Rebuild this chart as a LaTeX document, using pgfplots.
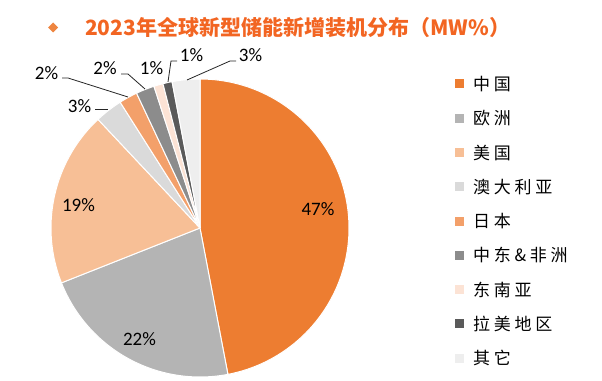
\documentclass[border=0pt]{standalone}
\usepackage{pgfplots}
\usepackage{pgfplotstable}
\pgfplotsset{compat=1.18}
\usepackage{fontspec}
\setmainfont{Carlito}
\newfontfamily\titlefont{Noto Sans CJK SC}
\newfontfamily\legfont[LetterSpace=22]{Noto Sans CJK SC}

\definecolor{cChina}{HTML}{ED7D31}
\definecolor{cEurope}{HTML}{B4B4B4}
\definecolor{cUS}{HTML}{F7BF96}
\definecolor{cAus}{HTML}{DADADA}
\definecolor{cJapan}{HTML}{F3A06A}
\definecolor{cMEA}{HTML}{8C8C8C}
\definecolor{cSEA}{HTML}{FCE3D5}
\definecolor{cLatAm}{HTML}{5A5A5A}
\definecolor{cOther}{HTML}{EEEEEE}
\definecolor{cTitle}{HTML}{F26522}
\definecolor{cDiamond}{HTML}{EE8540}

% share of 2023 new energy-storage installations (%), clockwise from 12 o'clock
\pgfplotstableread{
region value
China 47
Europe 22
US 19
Australia 3
Japan 2
MEA 2
SEA 1
LatAm 1
Other 3
}\piedata

\newcommand\lbl{\fontsize{19bp}{22bp}\selectfont}
\newcommand\pwedge[2]{%
  \fill[#2, draw=white, line width=1bp] (axis cs:200,228) -- plot[domain={\csname pieE#1\endcsname}:{\csname pieS#1\endcsname}, samples=90, variable=\t] ({200+149*cos(\t)},{228-149*sin(\t)}) -- cycle;}
\newcommand\legrow[3]{%
  \fill[#2] (axis cs:455,{84+34.25*#1-4.5}) rectangle (axis cs:464,{84+34.25*#1+4.5});
  \node[anchor=base west, inner sep=0pt, font=\legfont\fontsize{17bp}{20bp}\selectfont] at (axis cs:473,{84+34.25*#1+6.6}) {#3};}

\begin{document}
\begin{tikzpicture}
\def\acc{0}%
\foreach \i in {0,...,8}{%
  \pgfplotstablegetelem{\i}{value}\of\piedata
  \pgfmathsetmacro\st{90-3.6*\acc}%
  \pgfmathsetmacro\nacc{\acc+\pgfplotsretval}%
  \pgfmathsetmacro\en{90-3.6*\nacc}%
  \expandafter\xdef\csname pieS\i\endcsname{\st}%
  \expandafter\xdef\csname pieE\i\endcsname{\en}%
  \xdef\acc{\nacc}%
}%
\begin{axis}[
  width=602bp, height=381bp, scale only axis,
  xmin=0, xmax=602, ymin=0, ymax=381,
  y dir=reverse, hide axis, clip=false,
]
\pwedge{0}{cChina}
\pwedge{1}{cEurope}
\pwedge{2}{cUS}
\pwedge{3}{cAus}
\pwedge{4}{cJapan}
\pwedge{5}{cMEA}
\pwedge{6}{cSEA}
\pwedge{7}{cLatAm}
\pwedge{8}{cOther}

% leader lines
\draw[black!85, line width=0.8bp] (axis cs:95,109.5) -- (axis cs:108,109.5);
\draw[black!85, line width=0.8bp] (axis cs:62,78) -- (axis cs:68,78) -- (axis cs:128,97);
\draw[black!85, line width=0.8bp] (axis cs:121,74) -- (axis cs:128,74) -- (axis cs:145,89);
\draw[black!85, line width=0.8bp] (axis cs:177,61) -- (axis cs:171,61) -- (axis cs:168,82);
\draw[black!85, line width=0.8bp] (axis cs:236,61) -- (axis cs:230,61) -- (axis cs:187,80);

% percentage labels
\node[font=\lbl, inner sep=0pt] at (axis cs:318,209.5) {47\%};
\node[font=\lbl, inner sep=0pt] at (axis cs:139.5,339) {22\%};
\node[font=\lbl, inner sep=0pt] at (axis cs:78.5,205.5) {19\%};
\node[font=\lbl, inner sep=0pt] at (axis cs:79.5,106) {3\%};
\node[font=\lbl, inner sep=0pt] at (axis cs:46.5,73.5) {2\%};
\node[font=\lbl, inner sep=0pt] at (axis cs:105,68.5) {2\%};
\node[font=\lbl, inner sep=0pt] at (axis cs:151.5,68.5) {1\%};
\node[font=\lbl, inner sep=0pt] at (axis cs:191.5,55) {1\%};
\node[font=\lbl, inner sep=0pt] at (axis cs:250.5,55) {3\%};

% title
\fill[cDiamond] (axis cs:53,22.5) -- (axis cs:58,27.5) -- (axis cs:53,32.5) -- (axis cs:48,27.5) -- cycle;
\node[anchor=base west, inner sep=0pt, text=cTitle, font=\titlefont\bfseries\fontsize{21bp}{24bp}\selectfont] at (axis cs:85,36) {2023年全球新型储能新增装机分布（MW\%）};

% legend
\legrow{0}{cChina}{中国}
\legrow{1}{cEurope}{欧洲}
\legrow{2}{cUS}{美国}
\legrow{3}{cAus}{澳大利亚}
\legrow{4}{cJapan}{日本}
\legrow{5}{cMEA}{中东\&非洲}
\legrow{6}{cSEA}{东南亚}
\legrow{7}{cLatAm}{拉美地区}
\legrow{8}{cOther}{其它}
\end{axis}
\pgfresetboundingbox
\path (0,0) rectangle (602bp,381bp);
\end{tikzpicture}
\end{document}
